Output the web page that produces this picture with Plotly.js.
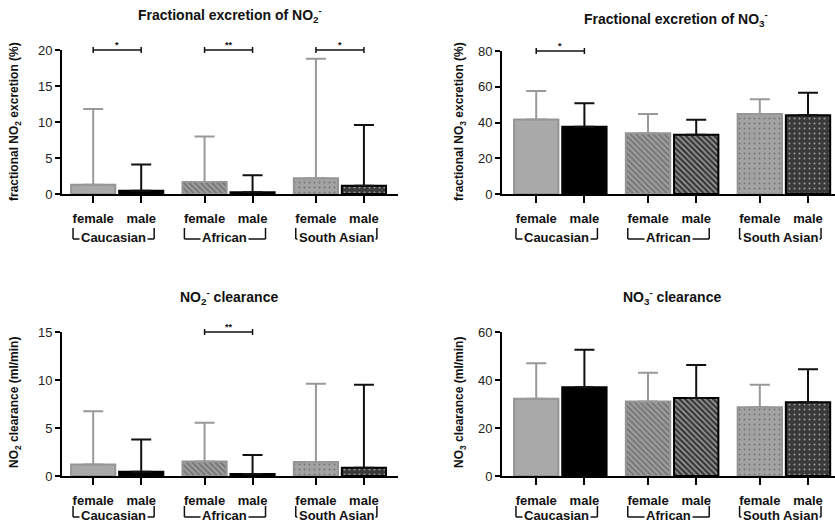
<!DOCTYPE html>
<html><head><meta charset="utf-8">
<script src="https://cdn.plot.ly/plotly-3.0.1.min.js"></script>
<style>html,body{margin:0;padding:0;background:#fff}#chart{width:835px;height:523px}</style>
</head><body><div id="chart"></div>
<script>
// ---------- data ----------
const groups = ['Caucasian', 'African', 'South Asian'];
const sexes = ['female', 'male'];

// Fractional excretion of NO2- (%)
const feNO2Female = [1.3, 1.65, 2.2];
const feNO2FemaleUpper = [11.8, 8.0, 18.8];
const feNO2Male = [0.45, 0.25, 1.15];
const feNO2MaleUpper = [4.1, 2.6, 9.6];
const feNO2Sig = ['*', '**', '*'];

// Fractional excretion of NO3- (%)
const feNO3Female = [41.7, 34.0, 44.8];
const feNO3FemaleUpper = [57.6, 44.8, 53.0];
const feNO3Male = [37.6, 33.2, 44.1];
const feNO3MaleUpper = [50.8, 41.6, 56.6];
const feNO3Sig = ['*', '', ''];

// NO2- clearance (ml/min)
const clNO2Female = [1.2, 1.5, 1.45];
const clNO2FemaleUpper = [6.75, 5.55, 9.6];
const clNO2Male = [0.45, 0.2, 0.85];
const clNO2MaleUpper = [3.8, 2.2, 9.5];
const clNO2Sig = ['', '**', ''];

// NO3- clearance (ml/min)
const clNO3Female = [32.2, 31.0, 28.6];
const clNO3FemaleUpper = [47.0, 43.0, 38.0];
const clNO3Male = [37.0, 32.5, 30.7];
const clNO3MaleUpper = [52.6, 46.2, 44.5];
const clNO3Sig = ['', '', ''];

// ---------- layout helpers ----------
const W = 835, H = 523;
const FONT = 'Liberation Sans, Arial, sans-serif';
const PERIOD = 2.32;   // distance between groups, in bar-slot units
const BARW = 0.92;

const panels = [
  {title: 'Fractional excretion of NO<sub>2</sub><sup>-</sup>', ytitle: 'fractional NO<sub>2</sub> excretion (%)',
   f: feNO2Female, fu: feNO2FemaleUpper, m: feNO2Male, mu: feNO2MaleUpper, sig: feNO2Sig,
   ymax: 20, dtick: 5, px: [62, 398], py: [194, 50], xr: [-0.65, 6.35], tpos: [230, 15], ytpos: [15, 122], glab: 43},
  {title: 'Fractional excretion of NO<sub>3</sub><sup>-</sup>', ytitle: 'fractional NO<sub>3</sub> excretion (%)',
   f: feNO3Female, fu: feNO3FemaleUpper, m: feNO3Male, mu: feNO3MaleUpper, sig: feNO3Sig,
   ymax: 80, dtick: 20, px: [502, 835], py: [194, 51], xr: [-0.71, 6.2], tpos: [676, 19], ytpos: [460, 122], glab: 43},
  {title: 'NO<sub>2</sub><sup>-</sup> clearance', ytitle: 'NO<sub>2</sub> clearance (ml/min)',
   f: clNO2Female, fu: clNO2FemaleUpper, m: clNO2Male, mu: clNO2MaleUpper, sig: clNO2Sig,
   ymax: 15, dtick: 5, px: [62, 398], py: [476, 332], xr: [-0.65, 6.35], tpos: [229, 297], ytpos: [15, 403], glab: 39},
  {title: 'NO<sub>3</sub><sup>-</sup> clearance', ytitle: 'NO<sub>3</sub> clearance (ml/min)',
   f: clNO3Female, fu: clNO3FemaleUpper, m: clNO3Male, mu: clNO3MaleUpper, sig: clNO3Sig,
   ymax: 60, dtick: 20, px: [502, 835], py: [476, 332], xr: [-0.71, 6.2], tpos: [672, 297], ytpos: [460, 403], glab: 39}
];

const femaleBg = ['#a9a9a9', '#9d9d9d', '#a3a3a3'];
const femaleFg = ['#a9a9a9', '#7c7c7c', '#858585'];
const maleBg = ['#000000', '#363636', '#3a3a3a'];
const maleFg = ['#000000', '#0c0c0c', '#101010'];
const patShapes = ['', '\\', '.'];
const patSize = [5, 4, 5];
const patSolidity = [0.3, 0.4, 0.12];

const traces = [];
const layout = {
  width: W, height: H, margin: {l: 0, r: 0, t: 0, b: 0},
  paper_bgcolor: '#fff', plot_bgcolor: '#fff', barmode: 'overlay', showlegend: false,
  font: {family: FONT, color: '#111'},
  shapes: [], annotations: []
};

panels.forEach((p, i) => {
  const s = i === 0 ? '' : String(i + 1);
  const xdom = [p.px[0] / W, p.px[1] / W];
  const ydom = [1 - p.py[0] / H, 1 - p.py[1] / H];
  const fx = groups.map((g, k) => k * PERIOD);
  const mx = groups.map((g, k) => k * PERIOD + 1);
  const toPX = x => xdom[0] + (x - p.xr[0]) / (p.xr[1] - p.xr[0]) * (xdom[1] - xdom[0]);

  traces.push({
    type: 'bar', x: fx, y: p.f, width: BARW, xaxis: 'x' + s, yaxis: 'y' + s,
    name: sexes[0], hoverinfo: 'skip',
    marker: {color: femaleBg, line: {color: '#959595', width: 2},
             pattern: {shape: patShapes, fillmode: 'overlay', fgcolor: femaleFg, size: patSize, solidity: patSolidity}},
    error_y: {type: 'data', symmetric: false, array: p.fu.map((u, k) => u - p.f[k]), arrayminus: p.f.map(() => 0),
              color: '#999999', thickness: 2, width: 10}
  });
  traces.push({
    type: 'bar', x: mx, y: p.m, width: BARW, xaxis: 'x' + s, yaxis: 'y' + s,
    name: sexes[1], hoverinfo: 'skip',
    marker: {color: maleBg, line: {color: '#000', width: 2},
             pattern: {shape: patShapes, fillmode: 'overlay', fgcolor: maleFg, size: patSize, solidity: patSolidity}},
    error_y: {type: 'data', symmetric: false, array: p.mu.map((u, k) => u - p.m[k]), arrayminus: p.m.map(() => 0),
              color: '#111111', thickness: 2, width: 10}
  });

  const tickvals = [], ticktext = [];
  groups.forEach((g, k) => { tickvals.push(fx[k], mx[k]); ticktext.push('<b>' + sexes[0] + '</b>', '<b>' + sexes[1] + '</b>'); });

  layout['xaxis' + s] = {
    domain: xdom, range: p.xr, anchor: 'y' + s, showline: true, linecolor: '#000', linewidth: 2,
    ticks: 'outside', ticklen: 7, tickwidth: 2, tickcolor: '#000', tickvals: tickvals, ticktext: ticktext,
    tickfont: {family: FONT, size: 13, color: '#111'}, ticklabelstandoff: 4,
    showgrid: false, zeroline: false, fixedrange: true
  };
  layout['yaxis' + s] = {
    domain: ydom, range: [0, p.ymax], anchor: 'x' + s, showline: true, linecolor: '#000', linewidth: 2,
    ticks: 'outside', ticklen: 5, tickwidth: 2, tickcolor: '#000', dtick: p.dtick, tick0: 0,
    tickfont: {family: FONT, size: 13, color: '#222'},
    showgrid: false, zeroline: false, fixedrange: true
  };

  // panel title
  layout.annotations.push({xref: 'paper', yref: 'paper', x: p.tpos[0] / W, y: 1 - p.tpos[1] / H,
    xanchor: 'center', yanchor: 'middle', showarrow: false, text: '<b>' + p.title + '</b>',
    font: {family: FONT, size: 14, color: '#111'}});
  // y-axis title
  layout.annotations.push({xref: 'paper', yref: 'paper', x: p.ytpos[0] / W, y: 1 - p.ytpos[1] / H,
    xanchor: 'center', yanchor: 'middle', showarrow: false, textangle: -90, text: '<b>' + p.ytitle + '</b>',
    font: {family: FONT, size: 12, color: '#111'}});

  const lineStyle = {color: '#111', width: 1.5};
  groups.forEach((g, k) => {
    // group bracket under the axis
    const xl = toPX(fx[k] - 0.42), xrr = toPX(mx[k] + 0.27);
    const yTopB = ydom[0] - (p.glab - 9) / H, yBot = ydom[0] - (p.glab + 2) / H;
    layout.shapes.push({type: 'line', xref: 'paper', yref: 'paper', x0: xl, x1: xl, y0: yTopB, y1: yBot, line: lineStyle});
    layout.shapes.push({type: 'line', xref: 'paper', yref: 'paper', x0: xrr, x1: xrr, y0: yTopB, y1: yBot, line: lineStyle});
    layout.shapes.push({type: 'line', xref: 'paper', yref: 'paper', x0: xl, x1: xrr, y0: yBot, y1: yBot, line: lineStyle});
    layout.annotations.push({xref: 'paper', yref: 'paper', x: (xl + xrr) / 2, y: ydom[0] - p.glab / H,
      xanchor: 'center', yanchor: 'middle', showarrow: false, text: '<b>' + g + '</b>',
      bgcolor: '#fff', borderpad: 1, font: {family: FONT, size: 13, color: '#111'}});

    // significance bracket
    if (p.sig[k]) {
      const x0 = toPX(fx[k]), x1 = toPX(mx[k]), yy = ydom[1];
      layout.shapes.push({type: 'line', xref: 'paper', yref: 'paper', x0: x0, x1: x1, y0: yy, y1: yy, line: {color: '#111', width: 1.5}});
      layout.shapes.push({type: 'line', xref: 'paper', yref: 'paper', x0: x0, x1: x0, y0: yy - 3 / H, y1: yy + 3 / H, line: {color: '#111', width: 1.5}});
      layout.shapes.push({type: 'line', xref: 'paper', yref: 'paper', x0: x1, x1: x1, y0: yy - 3 / H, y1: yy + 3 / H, line: {color: '#111', width: 1.5}});
      layout.annotations.push({xref: 'paper', yref: 'paper', x: (x0 + x1) / 2, y: yy, yanchor: 'bottom', yshift: -2,
        xanchor: 'center', showarrow: false, text: '<b>' + p.sig[k] + '</b>', font: {family: FONT, size: 9, color: '#111'}});
    }
  });
});

Plotly.newPlot('chart', traces, layout, {displayModeBar: false, staticPlot: true});
</script>
</body></html>
